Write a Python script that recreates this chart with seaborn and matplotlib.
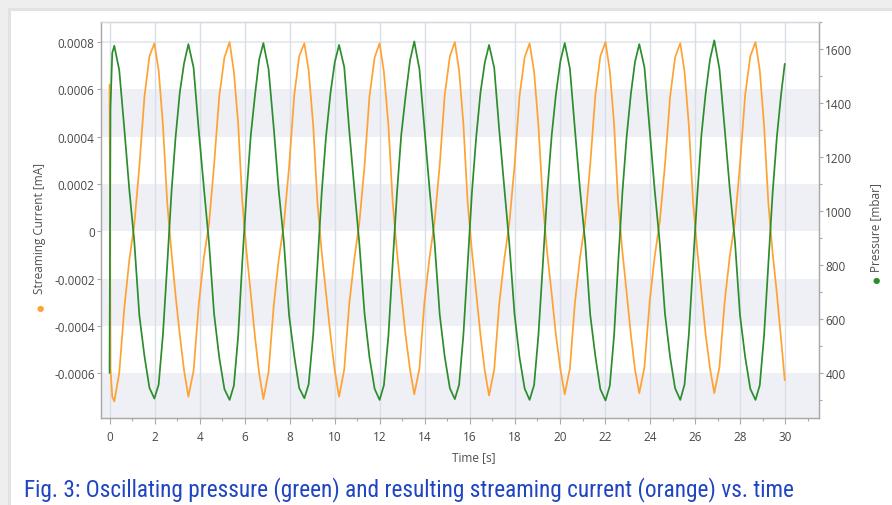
import numpy as np
import matplotlib
matplotlib.use("Agg")
import matplotlib.pyplot as plt
import matplotlib.ticker as mticker
from matplotlib.patches import Rectangle
from matplotlib import font_manager
import seaborn as sns

# sample times [s]
time_s = [
    0.00, 0.04, 0.12,
    0.21, 0.43, 0.66, 0.88, 1.10, 1.32, 1.55, 1.77,
    1.99, 2.18, 2.37, 2.56, 2.75, 2.93, 3.12, 3.31,
    3.50, 3.73, 3.96, 4.19, 4.42, 4.64, 4.87, 5.10,
    5.33, 5.52, 5.71, 5.89, 6.08, 6.27, 6.46, 6.64,
    6.83, 7.06, 7.29, 7.51, 7.74, 7.97, 8.20, 8.42,
    8.65, 8.84, 9.04, 9.23, 9.42, 9.61, 9.81, 10.00,
    10.19, 10.42, 10.64, 10.87, 11.09, 11.32, 11.54, 11.77,
    11.99, 12.18, 12.38, 12.57, 12.76, 12.95, 13.15, 13.34,
    13.53, 13.76, 13.98, 14.21, 14.43, 14.66, 14.88, 15.11,
    15.33, 15.52, 15.71, 15.90, 16.09, 16.28, 16.47, 16.66,
    16.85, 17.08, 17.30, 17.53, 17.75, 17.98, 18.20, 18.43,
    18.65, 18.85, 19.04, 19.24, 19.43, 19.63, 19.82, 20.02,
    20.21, 20.44, 20.66, 20.89, 21.12, 21.34, 21.57, 21.79,
    22.02, 22.21, 22.40, 22.58, 22.77, 22.96, 23.15, 23.33,
    23.52, 23.75, 23.98, 24.20, 24.43, 24.66, 24.89, 25.11,
    25.34, 25.53, 25.72, 25.91, 26.10, 26.28, 26.47, 26.66,
    26.85, 27.08, 27.31, 27.54, 27.77, 27.99, 28.22, 28.45,
    28.68, 28.87, 29.06, 29.25, 29.44, 29.63, 29.82, 29.98,
]

# pressure [mbar] (green)
pressure_mbar = [
    400, 1380, 1585,
    1612, 1522, 1300, 1076, 885, 615, 462, 345,
    305, 357, 542, 800, 1070, 1272, 1440, 1548,
    1618, 1531, 1298, 1084, 878, 620, 457, 340,
    300, 353, 536, 806, 1062, 1280, 1431, 1560,
    1622, 1525, 1308, 1077, 886, 614, 463, 344,
    306, 358, 541, 799, 1068, 1275, 1437, 1551,
    1615, 1533, 1301, 1082, 880, 621, 458, 341,
    300, 354, 535, 805, 1064, 1281, 1430, 1557,
    1628, 1524, 1306, 1079, 884, 616, 461, 343,
    303, 356, 540, 801, 1069, 1274, 1439, 1549,
    1615, 1530, 1302, 1083, 879, 619, 459, 342,
    300, 355, 538, 804, 1065, 1279, 1433, 1556,
    1622, 1527, 1305, 1078, 883, 617, 462, 340,
    298, 352, 537, 802, 1067, 1276, 1436, 1552,
    1618, 1532, 1303, 1081, 881, 620, 458, 343,
    300, 357, 541, 806, 1063, 1282, 1438, 1561,
    1632, 1526, 1307, 1080, 885, 616, 460, 341,
    300, 354, 538, 800, 1066, 1275, 1434, 1545,
]

# streaming current in units of 1e-4 mA (orange)
current_e4 = [
    6.2, -5.8, -7.0,
    -7.2, -6.0, -3.2, -1.2, 0.3, 2.7, 5.7, 7.4,
    7.95, 6.8, 4.5, 1.2, -0.9, -2.7, -4.4, -5.9,
    -7.0, -5.9, -3.1, -1.1, 0.35, 2.8, 5.7, 7.35,
    8.0, 6.75, 4.55, 1.3, -0.85, -2.65, -4.5, -6.0,
    -7.1, -5.95, -3.15, -1.2, 0.3, 2.7, 5.75, 7.4,
    7.95, 6.8, 4.5, 1.2, -0.9, -2.6, -4.4, -5.9,
    -7.0, -5.85, -3.1, -1.15, 0.35, 2.75, 5.7, 7.35,
    7.95, 6.75, 4.5, 1.25, -0.85, -2.65, -4.45, -5.85,
    -6.9, -5.8, -3.0, -1.1, 0.4, 2.8, 5.75, 7.4,
    8.0, 6.8, 4.55, 1.2, -0.85, -2.6, -4.4, -5.9,
    -6.95, -5.85, -3.1, -1.15, 0.35, 2.75, 5.7, 7.35,
    7.95, 6.75, 4.5, 1.2, -0.9, -2.65, -4.4, -5.85,
    -6.9, -5.8, -3.05, -1.1, 0.4, 2.8, 5.75, 7.4,
    8.0, 6.8, 4.55, 1.25, -0.85, -2.6, -4.4, -5.85,
    -6.85, -5.75, -3.0, -1.1, 0.4, 2.8, 5.7, 7.35,
    7.95, 6.75, 4.5, 1.2, -0.85, -2.6, -4.4, -5.8,
    -6.85, -5.75, -3.0, -1.05, 0.4, 2.8, 5.75, 7.4,
    8.0, 6.8, 4.5, 1.2, -0.9, -2.65, -4.6, -6.3,
]
current_ma = np.array(current_e4) * 1e-4

x_ticks = list(range(0, 31, 2))
current_ticks = [-0.0006, -0.0004, -0.0002, 0, 0.0002, 0.0004, 0.0006, 0.0008]
current_labels = ["-0.0006", "-0.0004", "-0.0002", "0", "0.0002", "0.0004", "0.0006", "0.0008"]
pressure_ticks = [400, 600, 800, 1000, 1200, 1400, 1600]
caption = "Fig. 3: Oscillating pressure (green) and resulting streaming current (orange) vs. time"

sns.set_theme(style="white")
plt.rcParams['font.family'] = ['Open Sans', 'DejaVu Sans']

W, H = 892, 506
fig = plt.figure(figsize=(W / 100, H / 100), dpi=100)
fig.patch.set_facecolor('#eeeeee')
# card with a soft shadow
fig.add_artist(Rectangle((8 / W, 0), 1, (H - 9) / H, transform=fig.transFigure,
                         facecolor='#e2e2e2', edgecolor='none', zorder=-2))
fig.add_artist(Rectangle((11 / W, 0), 1, (H - 12) / H, transform=fig.transFigure,
                         facecolor='white', edgecolor='none', zorder=-1))

ax = fig.add_axes([101 / W, 1 - 419 / H, 718 / W, 396 / H])
ax.set_facecolor('none')

orange = '#ffa233'
green = '#2c8d2c'
band = '#eef0f5'
grid = '#d9dee7'
spine = '#a9a9a9'
tick_txt = '#474747'

# alternating horizontal bands
ax.axhspan(-0.001, -0.0006, color=band, zorder=0, lw=0)
ax.axhspan(-0.0004, -0.0002, color=band, zorder=0, lw=0)
ax.axhspan(0, 0.0002, color=band, zorder=0, lw=0)
ax.axhspan(0.0004, 0.0006, color=band, zorder=0, lw=0)
ax.axhline(0.0008, color='#e7eaf0', lw=1.5, zorder=0)

sns.lineplot(x=time_s, y=current_ma, ax=ax, color=orange, linewidth=1.25,
             sort=False, estimator=None, zorder=3)

ax.set_xlim(-0.38, 31.5)
ax.set_ylim(-0.00079, 0.000885)
ax.set_xticks(x_ticks)
ax.set_xticklabels([str(t) for t in x_ticks])
ax.xaxis.set_minor_locator(mticker.MultipleLocator(1))
ax.set_yticks(current_ticks)
ax.set_yticklabels(current_labels)
ax.grid(axis='x', which='major', color=grid, lw=1, zorder=0)
ax.set_axisbelow(True)
ax.tick_params(axis='x', which='both', bottom=True, direction='out', length=4,
               width=0.8, color=spine, pad=5, labelsize=8.5, labelcolor=tick_txt)
ax.tick_params(axis='x', which='minor', length=2.5)
ax.tick_params(axis='y', left=True, direction='out', length=3, width=0.8,
               color=spine, pad=1.5, labelsize=8.5, labelcolor=tick_txt)
ax.set_xlabel("")
ax.set_ylabel("")

ax2 = ax.twinx()
sns.lineplot(x=time_s, y=pressure_mbar, ax=ax2, color=green, linewidth=1.25,
             sort=False, estimator=None, zorder=3)
ax2.set_ylim(233, 1700)
ax2.set_yticks(pressure_ticks)
ax2.set_yticklabels([str(p) for p in pressure_ticks])
ax2.yaxis.set_minor_locator(mticker.MultipleLocator(100))
ax2.tick_params(axis='y', which='both', right=True, direction='out', length=3,
                width=0.8, color=spine, pad=1.5, labelsize=8.5, labelcolor=tick_txt)
ax2.tick_params(axis='y', which='minor', length=2)
ax2.set_ylabel("")
ax2.set_xlabel("")

for a in (ax, ax2):
    for s in a.spines.values():
        s.set_color(spine)
        s.set_linewidth(0.9)
    a.spines['top'].set_color('#d4d7dd')

lab_col = '#4f4f4f'
fig.text(474 / W, 1 - 458 / H, "Time [s]", ha='center', va='center',
         fontsize=8.5, color=lab_col)
fig.text(40 / W, 1 - 228 / H, "Streaming Current [mA]", rotation=90,
         ha='center', va='center', fontsize=8.5, color=lab_col)
fig.text(40 / W, 1 - 309 / H, "\u25cf", ha='center', va='center',
         fontsize=6, color=orange, family=['DejaVu Sans'])
fig.text(876 / W, 1 - 228 / H, "Pressure [mbar]", rotation=90,
         ha='center', va='center', fontsize=8.5, color=lab_col)
fig.text(876 / W, 1 - 281 / H, "\u25cf", ha='center', va='center',
         fontsize=6, color=green, family=['DejaVu Sans'])

# caption uses a narrow face in the original; pick whichever narrow font exists
installed = {f.name for f in font_manager.fontManager.ttflist}
cap_fonts = [f for f in ['Roboto Condensed', 'Liberation Sans Narrow', 'Open Sans Condensed',
                         'Noto Sans Condensed', 'DejaVu Sans Condensed'] if f in installed]
cap_fonts += ['Noto Sans', 'DejaVu Sans']
cap = fig.text(24 / W, 1 - 490 / H, caption, ha='left', va='center', fontsize=15.5,
               color='#1f45c2', family=cap_fonts, fontstretch='condensed')
fig.canvas.draw()
cap_w = cap.get_window_extent().width
cap.set_fontsize(15.5 * 769 / cap_w)

fig.savefig("out.png", dpi=100, facecolor=fig.get_facecolor())
